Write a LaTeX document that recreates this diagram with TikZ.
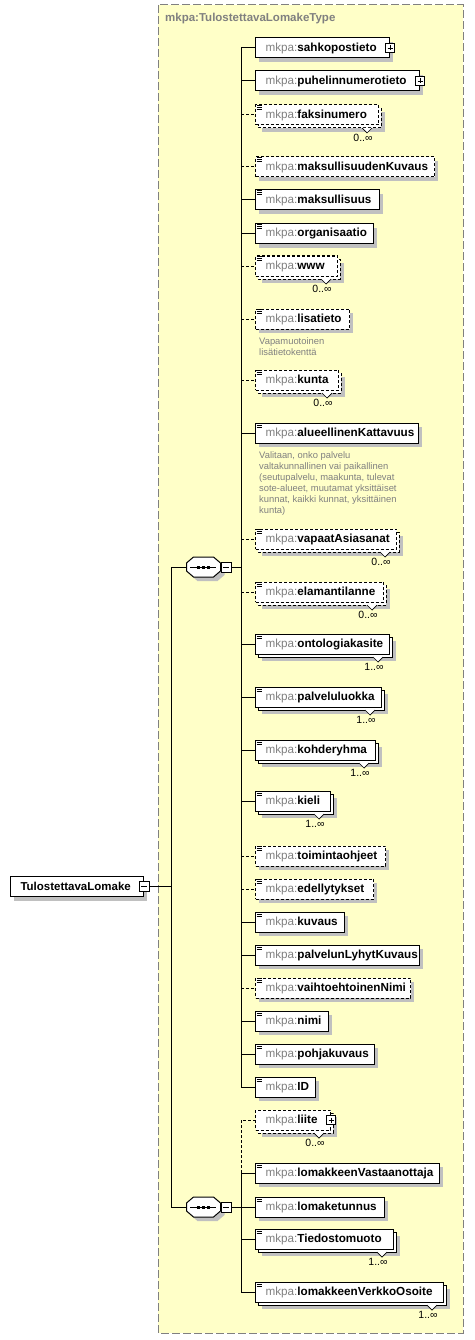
\documentclass[tikz,border=0pt]{standalone}
\usepackage{fontspec}
\setmainfont{Liberation Sans}
\usetikzlibrary{calc}
\definecolor{ybg}{RGB}{255,255,200}
\definecolor{ybd}{RGB}{128,128,128}
\definecolor{shdcol}{RGB}{192,192,192}
\definecolor{mgray}{RGB}{128,128,128}
\definecolor{agray}{RGB}{128,128,128}
\newcommand\xfont{\fontsize{11.7}{13}\selectfont}
\tikzset{
  elb/.style={draw=black, fill=white, line width=1pt},
  optb/.style={dash pattern=on 3pt off 2pt},
  solb/.style={},
  conn/.style={draw=black, line width=1pt},
  optc/.style={conn, dash pattern=on 3pt off 2pt},
  shadowfill/.style={fill=shdcol},
  plusbox/.style={draw=black, fill=white, line width=.7pt, minimum size=9pt, inner sep=0pt,
    path picture={\draw[line width=.7pt] ([xshift=2pt]path picture bounding box.west) -- ([xshift=-2pt]path picture bounding box.east)
      ([yshift=-2pt]path picture bounding box.north) -- ([yshift=2pt]path picture bounding box.south);}},
  minusbox/.style={draw=black, fill=white, line width=.7pt, minimum size=10pt, inner sep=0pt,
    path picture={\draw[line width=.7pt] ([xshift=2pt]path picture bounding box.west) -- ([xshift=-2pt]path picture bounding box.east);}},
  mult/.style={font=\fontsize{10.5}{12}\selectfont, text=black, inner sep=0pt},
  anno/.style={font=\fontsize{9.4}{11}\selectfont, text=agray, align=left, inner sep=0pt, anchor=north west},
}
% #1 id, #2 y, #3 width, #4 name, #5 border style, #6 multi, #7 icon (0 none,1 eq,2 plus), #8 multiplicity
\newcommand\xelem[8]{%
  \ifnum#6=1\relax
    \fill[shadowfill] (262,#2-3) rectangle (262+#3,#2+17);
    \draw[elb,#5] (258,#2-7) rectangle (258+#3,#2+13);
  \else
    \fill[shadowfill] (259,#2-6) rectangle (259+#3,#2+14);
  \fi
  \node[elb,#5,anchor=west,minimum width=#3pt,minimum height=20pt,inner sep=0pt,font=\xfont] (#1) at (255,#2)
    {\makebox[#3pt][l]{\hspace{10pt}\textcolor{mgray}{mkpa:}\textbf{#4}}};
  \ifcase#7\relax\or
    \draw[line width=.7pt] (256.5,#2-9.2) -- (262,#2-9.2) (256.5,#2-7.6) -- (262,#2-7.6) (256.5,#2-6) -- (262,#2-6);
  \or
    \node[plusbox] (#1p) at (#1.east) {};
  \fi
  \ifnum#6=1\relax
    \filldraw[fill=white,draw=black,line width=.7pt] (255+#3-16,#2+13) -- (255+#3-11,#2+18) -- (255+#3-6,#2+13);
    \node[mult] (#1m) at (255+#3-15,#2+23) {#8};
  \fi
}
% sequence compositor
\newcommand\xseq[1]{%
  \begin{scope}[shift={(#1.center)}]
    \fill[shadowfill] (-13,0) -- (-6,-6) -- (14,-6) -- (21,0) -- (21,8) -- (14,14) -- (-6,14) -- (-13,8) -- cycle;
    \draw[fill=white, line width=1pt] (-17,-4) -- (-10,-10) -- (10,-10) -- (17,-4) -- (17,4) -- (10,10) -- (-10,10) -- (-17,4) -- cycle;
    \draw[line width=1pt] (-13.5,0) -- (12.5,0);
    \fill (-6.5,-1.5) rectangle ++(3,3);
    \fill (-1.5,-1.5) rectangle ++(3,3);
    \fill (3.5,-1.5) rectangle ++(3,3);
  \end{scope}}
\begin{document}
\begin{tikzpicture}[x=1pt,y=-1pt]
\useasboundingbox (0,0) rectangle (474,1340);
\fill[white] (0,0) rectangle (474,1340);
% complex type box
\draw[fill=ybg, draw=ybd, line width=1pt, dash pattern=on 8pt off 3pt] (158,5) rectangle (463,1333);
\node[anchor=west, font=\bfseries\fontsize{11.5}{13}\selectfont, text=mgray, inner sep=0pt] (title) at (165,19) {mkpa:TulostettavaLomakeType};

% elements, first sequence
\xelem{e1}{48}{134}{sahkopostieto}{solb}{0}{2}{}
\xelem{e2}{81}{164}{puhelinnumerotieto}{solb}{0}{2}{}
\xelem{e3}{115}{123}{faksinumero}{optb}{1}{1}{0..∞}
\xelem{e4}{167}{179}{maksullisuudenKuvaus}{optb}{0}{1}{}
\xelem{e5}{200}{124}{maksullisuus}{solb}{0}{1}{}
\xelem{e6}{234}{118}{organisaatio}{solb}{0}{1}{}
\xelem{e7}{266}{82}{www}{optb}{1}{1}{0..∞}
\xelem{e8}{319}{94}{lisatieto}{optb}{0}{1}{}
\xelem{e9}{380}{83}{kunta}{optb}{1}{1}{0..∞}
\xelem{e10}{433}{163}{alueellinenKattavuus}{solb}{0}{1}{}
\xelem{e11}{539}{141}{vapaatAsiasanat}{optb}{1}{1}{0..∞}
\xelem{e12}{592}{128}{elamantilanne}{optb}{1}{1}{0..∞}
\xelem{e13}{644}{134}{ontologiakasite}{solb}{1}{1}{1..∞}
\xelem{e14}{697}{126}{palveluluokka}{solb}{1}{1}{1..∞}
\xelem{e15}{750}{120}{kohderyhma}{solb}{1}{1}{1..∞}
\xelem{e16}{801}{75}{kieli}{solb}{1}{1}{1..∞}
\xelem{e17}{856}{130}{toimintaohjeet}{optb}{0}{1}{}
\xelem{e18}{889}{118}{edellytykset}{optb}{0}{1}{}
\xelem{e19}{922}{89}{kuvaus}{solb}{0}{1}{}
\xelem{e20}{955}{164}{palvelunLyhytKuvaus}{solb}{0}{1}{}
\xelem{e21}{988}{155}{vaihtoehtoinenNimi}{optb}{0}{1}{}
\xelem{e22}{1021}{73}{nimi}{solb}{0}{1}{}
\xelem{e23}{1054}{119}{pohjakuvaus}{solb}{0}{1}{}
\xelem{e24}{1087}{60}{ID}{solb}{0}{1}{}
% second sequence
\xelem{e25}{1120}{75}{liite}{optb}{1}{2}{0..∞}
\xelem{e26}{1173}{184}{lomakkeenVastaanottaja}{solb}{0}{1}{}
\xelem{e27}{1207}{129}{lomaketunnus}{solb}{0}{1}{}
\xelem{e28}{1239}{138}{Tiedostomuoto}{solb}{1}{1}{1..∞}
\xelem{e29}{1292}{188}{lomakkeenVerkkoOsoite}{solb}{1}{1}{1..∞}

% annotations
\node[anno] (a8) at (259,337.5) {Vapamuotoinen\\lisätietokenttä};
\node[anno] (a10) at (259,451.3) {Valitaan, onko palvelu\\valtakunnallinen vai paikallinen\\(seutupalvelu, maakunta, tulevat\\sote-alueet, muutamat yksittäiset\\kunnat, kaikki kunnat, yksittäinen\\kunta)};

% compositors
\node[minimum width=34pt, minimum height=20pt, inner sep=0pt] (seq1) at (203.5,567) {};
\xseq{seq1}
\node[minusbox] (seq1x) at (226,567) {};
\node[minimum width=34pt, minimum height=20pt, inner sep=0pt] (seq2) at (203.5,1207) {};
\xseq{seq2}
\node[minusbox] (seq2x) at (226,1207) {};

% spines
\coordinate (s1) at (241,567);
\coordinate (s2) at (241,1207);
\draw[conn] (e1.west -| s1) -- (e24.west -| s1);
\draw[conn] (seq1x.east) -- (s1);
\foreach \i in {1,2,5,6,10,13,14,15,16,19,20,22,23,24}{\draw[conn] (e\i.west -| s1) -- (e\i.west);}
\foreach \i in {3,4,7,8,9,11,12,17,18,21}{\draw[optc] (e\i.west -| s1) -- (e\i.west);}
\draw[conn] (e26.west -| s2) -- (e29.west -| s2);
\draw[optc] (e26.west -| s2) -- (e25.west -| s2) -- (e25.west);
\draw[conn] (seq2x.east) -- (s2);
\foreach \i in {26,27,28,29}{\draw[conn] (e\i.west -| s2) -- (e\i.west);}

% root element
\fill[shadowfill] (14,880.5) rectangle (147,900.5);
\node[elb, anchor=west, minimum width=133pt, minimum height=20pt, inner sep=0pt, font=\bfseries\fontsize{11.5}{13}\selectfont] (root) at (10,886.5)
  {\makebox[133pt][l]{\hspace{10pt}TulostettavaLomake}};
\node[minusbox] (rootx) at (root.east) {};
\coordinate (trunk) at (171,886.5);
\draw[conn] (rootx.east) -- (trunk);
\draw[conn] (seq1.west -| trunk) -- (seq2.west -| trunk);
\draw[conn] (seq1.west -| trunk) -- (seq1.west);
\draw[conn] (seq2.west -| trunk) -- (seq2.west);
\end{tikzpicture}
\end{document}
